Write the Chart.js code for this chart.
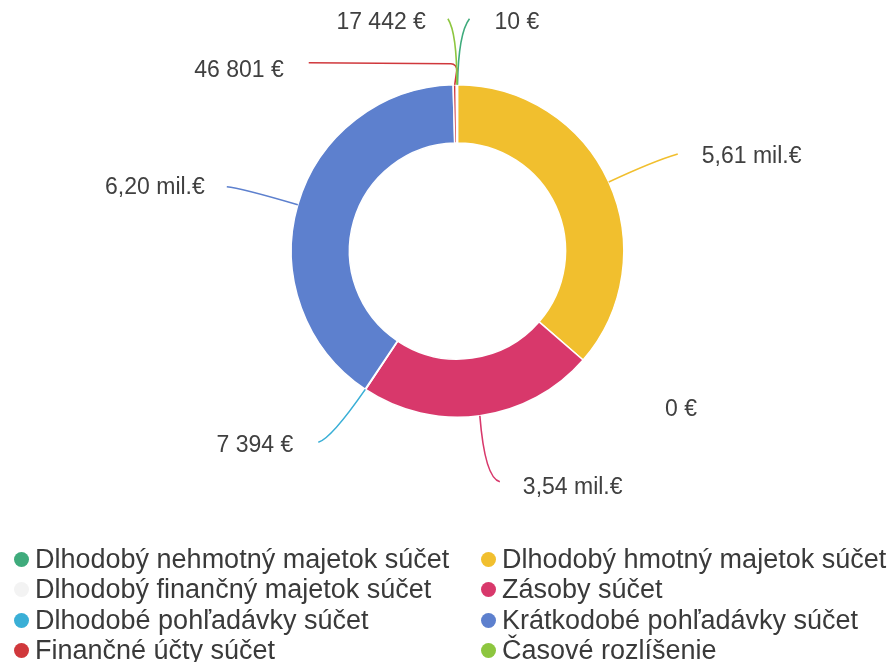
<!DOCTYPE html>
<html>
<head>
<meta charset="utf-8">
<script src="https://cdn.jsdelivr.net/npm/chart.js@4.4.1/dist/chart.umd.min.js"></script>
<style>
  body { margin: 0; background: #fff; }
  #wrap { position: relative; width: 890px; height: 662px; }
  #legend { position: absolute; left: 0; top: 544px; width: 890px;
    font-family: "Liberation Sans", Arial, sans-serif; font-size: 27px; color: #3a3a3a; }
  .item { position: absolute; height: 30px; line-height: 30px; white-space: nowrap; }
  .dot { position: absolute; left: 0; top: 8px; width: 15px; height: 15px; border-radius: 50%; }
  .txt { position: absolute; left: 21px; top: 0; }
</style>
</head>
<body>
<div id="wrap">
  <canvas id="myChart" width="890" height="662"></canvas>
  <div id="legend"></div>
</div>
<script>
//Data
var categories = [
  "Dlhodobý nehmotný majetok súčet",
  "Dlhodobý hmotný majetok súčet",
  "Dlhodobý finančný majetok súčet",
  "Zásoby súčet",
  "Dlhodobé pohľadávky súčet",
  "Krátkodobé pohľadávky súčet",
  "Finančné účty súčet",
  "Časové rozlíšenie"
];
var values = [10, 5610000, 0, 3540000, 7394, 6200000, 46801, 17442];
var colors = ["#3fab7c", "#f1bf2e", "#f3f3f3", "#d8386b", "#3aafd6", "#5d80ce", "#d0383c", "#8dc63f"];

function formatEur(v) {
  if (v >= 1000000) return (v / 1000000).toFixed(2).replace(".", ",") + " mil.€";
  return String(v).replace(/\B(?=(\d{3})+(?!\d))/g, " ") + " €";
}

// leader lines, relative to the outer edge of each slice:
// curve = quadratic [control, end], corner = tight rounded corner [corner, end]
var leaders = [
  { curve: [[1, -52], [12, -66]], label: [37, -62], align: "left" },
  { curve: [[45, -21], [69, -28]], label: [93, -25], align: "left" },
  { label: [82, 50], align: "left" },
  { curve: [[5, 62], [20, 66]], label: [43, 72], align: "left" },
  { curve: [[-34, 49], [-47, 53]], label: [-72, 56], align: "right" },
  { curve: [[-58, -17], [-71, -18]], label: [-93, -17], align: "right" },
  { corner: [[3, -21], [-146, -22]], label: [-171, -14], align: "right" },
  { curve: [[0, -52], [-9, -66]], label: [-31, -62], align: "right" }
];

var labelPlugin = {
  id: "outLabels",
  afterDatasetsDraw: function (chart) {
    var ctx = chart.ctx;
    var meta = chart.getDatasetMeta(0);
    ctx.save();
    meta.data.forEach(function (arc, i) {
      var mid = (arc.startAngle + arc.endAngle) / 2;
      var ex = arc.x + Math.cos(mid) * arc.outerRadius;
      var ey = arc.y + Math.sin(mid) * arc.outerRadius;
      var L = leaders[i];
      ctx.strokeStyle = colors[i];
      ctx.lineWidth = 1.6;
      if (L.curve) {
        ctx.beginPath();
        ctx.moveTo(ex, ey);
        ctx.quadraticCurveTo(ex + L.curve[0][0], ey + L.curve[0][1], ex + L.curve[1][0], ey + L.curve[1][1]);
        ctx.stroke();
      } else if (L.corner) {
        ctx.beginPath();
        ctx.moveTo(ex, ey);
        ctx.arcTo(ex + L.corner[0][0], ey + L.corner[0][1], ex + L.corner[1][0], ey + L.corner[1][1], 6);
        ctx.lineTo(ex + L.corner[1][0], ey + L.corner[1][1]);
        ctx.stroke();
      }
      ctx.fillStyle = "#404040";
      ctx.font = "23px 'Liberation Sans', Arial, sans-serif";
      ctx.textAlign = L.align;
      ctx.textBaseline = "middle";
      ctx.fillText(formatEur(values[i]), ex + L.label[0], ey + L.label[1]);
    });
    ctx.restore();
  }
};

var ctx = document.getElementById("myChart").getContext("2d");
var myChart = new Chart(ctx, {
  type: "doughnut",
  data: {
    labels: categories,
    datasets: [
      {
        data: values,
        backgroundColor: colors,
        borderColor: "#ffffff",
        borderWidth: 1.5
      }
    ]
  },
  options: {
    responsive: false,
    animation: false,
    cutout: "65%",
    layout: { padding: { top: 84, bottom: 244, left: 290, right: 265 } },
    plugins: {
      legend: { display: false },
      tooltip: { enabled: false }
    }
  },
  plugins: [labelPlugin]
});

// HTML legend, two columns
var legend = document.getElementById("legend");
categories.forEach(function (name, i) {
  var col = i % 2, row = Math.floor(i / 2);
  var div = document.createElement("div");
  div.className = "item";
  div.style.left = (col === 0 ? 14 : 481) + "px";
  div.style.top = (row * 30.3) + "px";
  div.innerHTML = '<span class="dot" style="background:' + colors[i] + '"></span><span class="txt">' + name + "</span>";
  legend.appendChild(div);
});
</script>
</body>
</html>
